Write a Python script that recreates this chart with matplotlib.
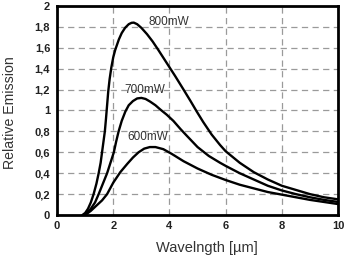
import matplotlib
matplotlib.use("Agg")
import matplotlib.pyplot as plt
from matplotlib.ticker import FuncFormatter

# Data
x_800 = [0.9, 1.0, 1.1, 1.2, 1.3, 1.4, 1.48, 1.55, 1.6, 1.65, 1.7, 1.74, 1.78, 1.82, 1.87, 1.93, 2.0, 2.07, 2.2, 2.3, 2.42, 2.55, 2.65, 2.73,
         2.85, 3.0, 3.2, 3.4, 3.6, 3.84, 4.2, 4.5, 4.75, 4.97, 5.2, 5.5, 5.8, 6.0, 6.5, 7.0, 7.5, 8.0, 8.5, 9.0, 9.5, 10.0]
y_800 = [0.0, 0.02, 0.06, 0.12, 0.2, 0.3, 0.4, 0.5, 0.6, 0.7, 0.8, 0.92, 1.05, 1.18, 1.3, 1.41, 1.51, 1.58, 1.68, 1.74, 1.79, 1.825, 1.838, 1.84,
         1.825, 1.79, 1.73, 1.66, 1.58, 1.48, 1.33, 1.2, 1.09, 0.99, 0.89, 0.77, 0.67, 0.61, 0.5, 0.41, 0.34, 0.28, 0.24, 0.2, 0.17, 0.15]

x_700 = [0.95, 1.1, 1.2, 1.35, 1.48, 1.6, 1.78, 1.9, 2.02, 2.1, 2.19, 2.3, 2.43, 2.55, 2.7, 2.85, 3.0,
         3.15, 3.31, 3.5, 3.67, 3.9, 4.14, 4.4, 4.61, 5.0, 5.4, 5.8, 6.0, 6.5, 7.0, 7.5, 8.0, 8.5, 9.0, 9.5, 10.0]
y_700 = [0.0, 0.03, 0.06, 0.12, 0.2, 0.28, 0.4, 0.5, 0.6, 0.7, 0.8, 0.9, 0.99, 1.05, 1.09, 1.115, 1.12,
         1.11, 1.085, 1.05, 1.01, 0.96, 0.9, 0.82, 0.76, 0.65, 0.565, 0.5, 0.47, 0.4, 0.34, 0.28, 0.235, 0.2, 0.17, 0.145, 0.125]

x_600 = [1.0, 1.2, 1.4, 1.6, 1.78, 2.0, 2.25, 2.5, 2.7, 2.9, 3.1, 3.3, 3.5, 3.78,
         4.08, 4.5, 5.0, 5.5, 5.8, 6.0, 6.5, 7.0, 7.5, 8.0, 8.5, 9.0, 9.5, 10.0]
y_600 = [0.0, 0.04, 0.09, 0.14, 0.2, 0.31, 0.41, 0.49, 0.55, 0.6, 0.635, 0.65, 0.65, 0.63,
         0.585, 0.515, 0.445, 0.385, 0.355, 0.335, 0.29, 0.255, 0.22, 0.195, 0.17, 0.145, 0.125, 0.105]

series = [(x_800, y_800, "800mW", (3.27, 1.85)),
          (x_700, y_700, "700mW", (2.38, 1.20)),
          (x_600, y_600, "600mW", (2.49, 0.75))]

x_ticks = [0, 2, 4, 6, 8, 10]
y_ticks = [0, 0.2, 0.4, 0.6, 0.8, 1.0, 1.2, 1.4, 1.6, 1.8, 2.0]

plt.rcParams['font.family'] = ['Liberation Sans', 'DejaVu Sans']

fig = plt.figure(figsize=(3.46, 2.56), dpi=100)
ax = fig.add_axes([0.165, 0.16, 0.812, 0.817])

for xs, ys, label, (tx, ty) in series:
    ax.plot(xs, ys, color='black', lw=1.7, solid_joinstyle='round', solid_capstyle='round')
    ax.text(tx, ty, label, fontsize=8.5, color='#333333', ha='left', va='center')

ax.set_xlim(0, 10)
ax.set_ylim(0, 2)
ax.set_xticks(x_ticks)
ax.set_yticks(y_ticks)

def fmt(v, pos):
    s = ('%g' % v)
    return s.replace('.', ',')

ax.yaxis.set_major_formatter(FuncFormatter(fmt))
ax.xaxis.set_major_formatter(FuncFormatter(fmt))
ax.tick_params(axis='y', length=0, labelsize=8, pad=5, colors='#222222')
ax.tick_params(axis='x', length=0, labelsize=8, pad=4.5, colors='#222222')
for lbl in ax.get_xticklabels() + ax.get_yticklabels():
    lbl.set_fontweight('bold')

ax.grid(True, color='#9a9a9a', linestyle=(0, (5, 3.5)), linewidth=0.9)
ax.set_axisbelow(True)
for sp in ax.spines.values():
    sp.set_linewidth(2.0)
    sp.set_color('black')

ax.set_xlabel('Wavelngth [µm]', fontsize=10.5, color='#333333')
ax.xaxis.set_label_coords(0.534, -0.122)
ax.set_ylabel('Relative Emission', fontsize=10.2, color='#333333')
ax.yaxis.set_label_coords(-0.142, 0.49)

fig.savefig('out.png', dpi=100)
